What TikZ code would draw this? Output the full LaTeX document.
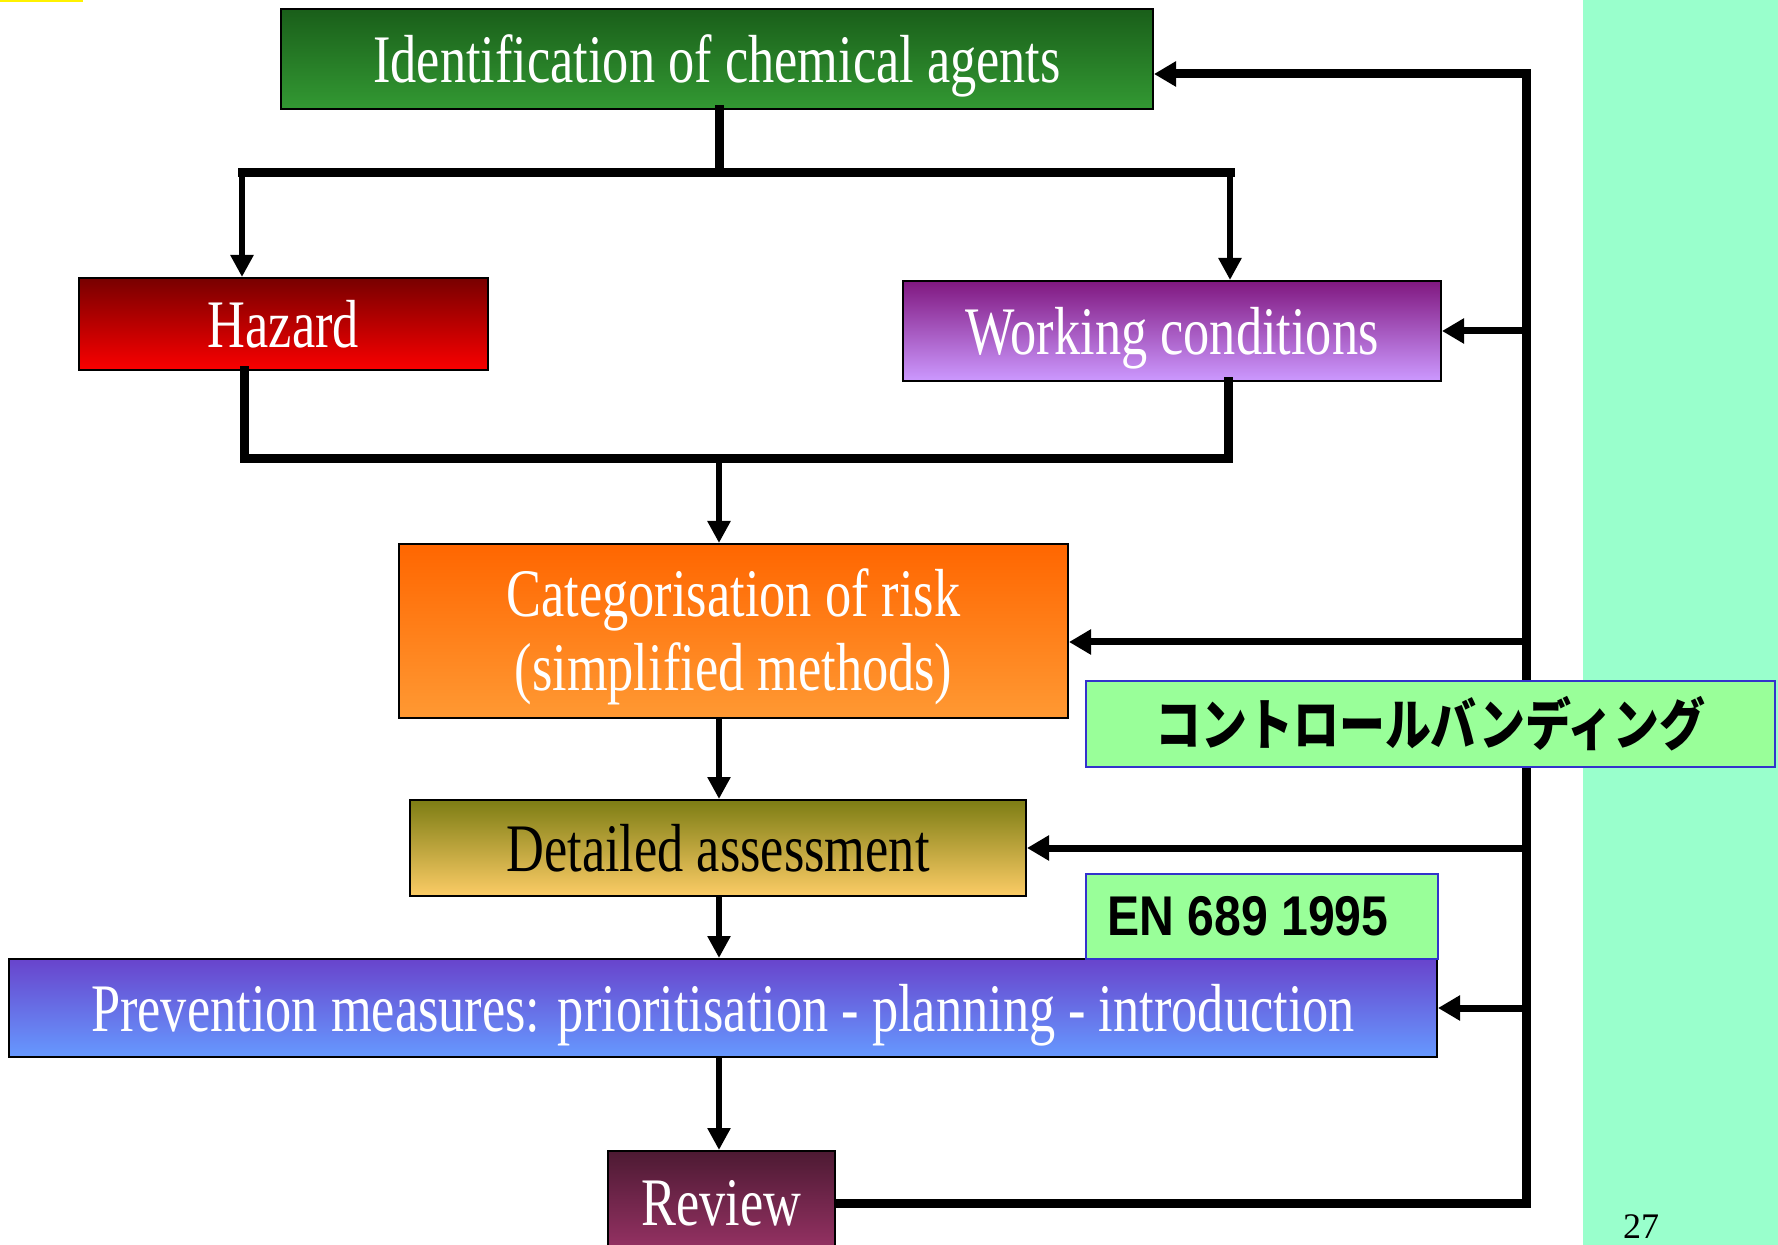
\documentclass[tikz,border=0pt]{standalone}
\usepackage{fontspec}
\setmainfont{Liberation Serif}
\newfontfamily\boxfont{Liberation Serif}[FakeStretch=0.77]
\newfontfamily\jpfont{Noto Sans CJK JP}[FakeStretch=0.82]
\newfontfamily\enfont{Liberation Sans}[FakeStretch=0.86]
\usetikzlibrary{arrows.meta}
\definecolor{stripecol}{HTML}{99FFCC}
\definecolor{labelfill}{HTML}{99FF99}
\definecolor{labeldraw}{HTML}{3333CC}
\tikzset{
  flowbox/.style={draw=black, line width=1pt, inner sep=0pt, text=white,
    font=\boxfont\fontsize{34}{37}\selectfont, align=center, shading=axis, text depth=0pt},
  boxtext/.style={inner sep=0pt, text=white, font=\boxfont\fontsize{34}{37}\selectfont, align=center},
  labelbox/.style={draw=labeldraw, line width=1pt, fill=labelfill, inner sep=0pt, text=black},
  mainline/.style={line width=4.5pt, line join=miter, line cap=rect},
  shaft/.style={line width=3pt, -{Triangle[length=11pt,width=11pt]}},
  feed/.style={line width=3.5pt, -{Triangle[length=11pt,width=12pt]}},
}
\begin{document}
\begin{tikzpicture}[x=0.5pt,y=-0.5pt]
\useasboundingbox (0,0) rectangle (1778,1245);
\fill[white] (0,0) rectangle (1778,1245);
\fill[stripecol] (1583,0) rectangle (1778,1245);
\fill[yellow] (0,0) rectangle (83,2.5);

% boxes
\node[flowbox, minimum width=436pt, minimum height=50pt, top color=green!30!black!90, bottom color={rgb,255:red,51;green,153;blue,51}] (id) at (717,59) {Identification of chemical agents};
\node[flowbox, minimum width=204.5pt, minimum height=46pt, top color={rgb,255:red,120;green,0;blue,0}, bottom color={rgb,255:red,250;green,0;blue,0}] (hz) at (283.5,324) {Hazard};
\node[flowbox, minimum width=269pt, minimum height=50pt, top color={rgb,255:red,128;green,24;blue,128}, bottom color={rgb,255:red,204;green,153;blue,255}] (wc) at (1172,331) {Working conditions};
\node[flowbox, minimum width=334.5pt, minimum height=87pt, top color={rgb,255:red,255;green,102;blue,0}, bottom color={rgb,255:red,255;green,153;blue,51}] (cat) at (733.5,631) {};
\node[boxtext] (cattext) at (733.5,637) {Categorisation of risk\\(simplified methods)};
\node[flowbox, minimum width=308pt, minimum height=48pt, text=black, top color={rgb,255:red,125;green,125;blue,20}, bottom color={rgb,255:red,252;green,204;blue,102}] (det) at (718,848) {Detailed assessment};
\node[flowbox, minimum width=714pt, minimum height=49pt, top color={rgb,255:red,104;green,68;blue,204}, bottom color={rgb,255:red,102;green,153;blue,255}] (prev) at (723,1008) {Prevention measures: prioritisation - planning - introduction};
\node[flowbox, minimum width=113.5pt, minimum height=52pt, top color={rgb,255:red,77;green,26;blue,51}, bottom color={rgb,255:red,153;green,51;blue,102}] (rev) at (721.5,1203) {Review};

% junction coordinates
\coordinate (tl) at (242,173);
\coordinate (tr) at (1230,173);
\coordinate (tm) at (719,173);
\coordinate (bl) at (244,459);
\coordinate (br) at (1228,459);
\coordinate (bm) at (719,459);
\coordinate (fbB) at (1526,1203);
\coordinate (fbT) at (1526,74);
\coordinate (f1) at (1526,331);
\coordinate (f2) at (1526,642);
\coordinate (f3) at (1526,848);
\coordinate (f4) at (1526,1008);

% top split
\draw[mainline] (id.south -| tm) -- (tm);
\draw[mainline] (tl) -- (tr);
\draw[shaft] (tl) -- (hz.north -| tl);
\draw[shaft] (tr) -- (wc.north -| tr);
% bottom join
\draw[mainline] (hz.south -| bl) -- (bl) -- (br) -- (wc.south -| br);
\draw[shaft] (bm) -- (cat.north -| bm);
% chain
\draw[shaft] (cat.south -| tm) -- (det.north -| tm);
\draw[shaft] (det.south -| tm) -- (prev.north -| tm);
\draw[shaft] (prev.south -| tm) -- (rev.north -| tm);
% feedback loop
\draw[mainline, line cap=butt] (rev.east) -- (fbB) -- (fbT) -- ([xshift=10pt]id.east |- fbT);
\draw[feed] (fbT) -- (id.east |- fbT);
\draw[feed] (f1) -- (wc.east |- f1);
\draw[feed] (f2) -- (cat.east |- f2);
\draw[feed] (f3) -- (det.east |- f3);
\draw[feed] (f4) -- (prev.east |- f4);

% labels
\node[labelbox, minimum width=344.5pt, minimum height=43pt, font=\jpfont\bfseries\fontsize{28}{30}\selectfont] (cb) at (1430.5,724) {コントロールバンディング};
\node[labelbox, minimum width=176pt, minimum height=42.5pt] (en) at (1262,916.5) {};
\node[anchor=west, inner sep=0pt, font=\enfont\bfseries\fontsize{28}{30}\selectfont] (entext) at ([xshift=11pt]en.west) {EN 689 1995};

\node[font=\fontsize{18}{20}\selectfont] (pg) at (1641,1227) {27};
\end{tikzpicture}
\end{document}
